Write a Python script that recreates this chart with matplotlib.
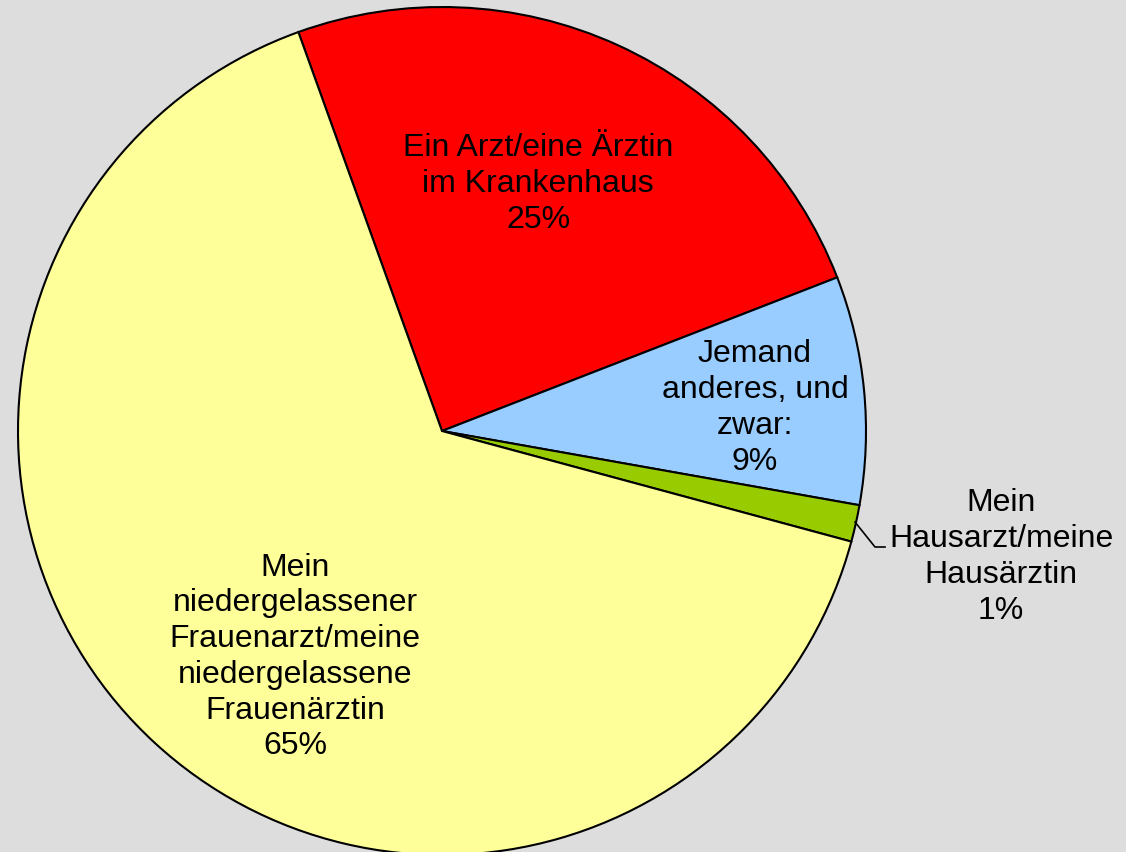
import matplotlib
matplotlib.use("Agg")
import matplotlib.pyplot as plt

# slice data, clockwise from the top-left boundary
labels = ["Ein Arzt/eine Ärztin\nim Krankenhaus",
          "Jemand\nanderes, und\nzwar:",
          "Mein\nHausarzt/meine\nHausärztin",
          "Mein\nniedergelassener\nFrauenarzt/meine\nniedergelassene\nFrauenärztin"]
values = [24.6, 8.7, 1.4, 65.3]
colors = ["#FF0000", "#99CCFF", "#99CC00", "#FFFF99"]

W, H = 1126, 853
fig = plt.figure(figsize=(W / 100, H / 100), dpi=100)
fig.patch.set_facecolor("#DDDDDD")
ax = fig.add_axes([0, 0, 1, 1])

cx, cy, r = 442, H - 432, 424
ax.pie(values, colors=colors, startangle=109.8, counterclock=False,
       center=(cx, cy), radius=r, frame=True,
       wedgeprops=dict(edgecolor="black", linewidth=1.5))
ax.set_xlim(0, W)
ax.set_ylim(0, H)
ax.axis("off")

# label positions (pixels, from top-left)
label_pos = [(538, 184), (755, 408), (1001, 557), (295, 657)]
for lab, v, (x, y) in zip(labels, values, label_pos):
    ax.text(x, H - y, f"{lab}\n{v:.0f}%", ha="center", va="center",
            fontsize=23, family="Liberation Sans", linespacing=1.25)

# leader line for the small slice
ax.plot([855, 875, 885], [H - 523, H - 548, H - 548], color="black", lw=1.2)

fig.savefig("out.png", dpi=100, facecolor=fig.get_facecolor())
